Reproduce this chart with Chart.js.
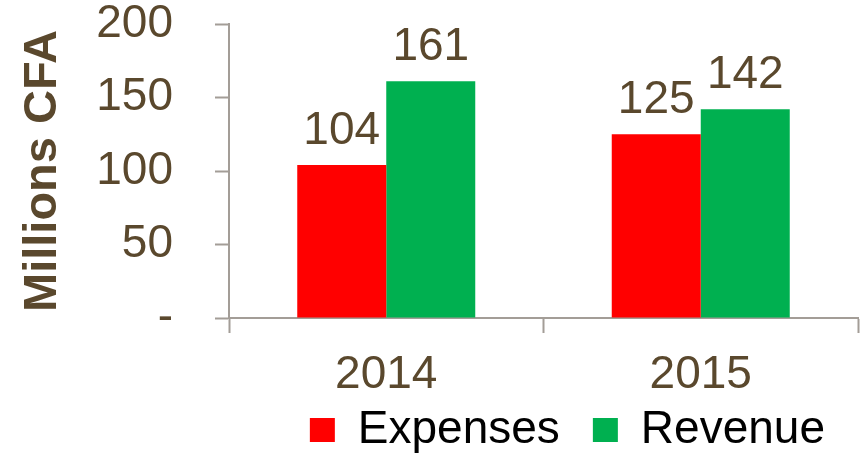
<!DOCTYPE html>
<html>
<head>
<meta charset="utf-8">
<script src="https://cdn.jsdelivr.net/npm/chart.js@4/dist/chart.umd.min.js"></script>
<style>
    html, body { margin: 0; padding: 0; background: #ffffff; }
    #wrap { width: 862px; height: 463px; }
</style>
</head>
<body>
<div id="wrap"><canvas id="chart"></canvas></div>
<script>
// Chart data
const years = ['2014', '2015'];
const expenses = [104, 125];
const revenue = [161, 142];
const yTicks = [0, 50, 100, 150, 200];

const textColor = '#5a482d';
const axisColor = '#a39d97';
const fontFamily = '"Liberation Sans", Arial, sans-serif';

// Value labels above each bar
const barValues = {
    id: 'barValues',
    afterDatasetsDraw(chart) {
        const ctx = chart.ctx;
        ctx.save();
        ctx.font = '46px ' + fontFamily;
        ctx.fillStyle = textColor;
        ctx.textAlign = 'center';
        ctx.textBaseline = 'alphabetic';
        chart.data.datasets.forEach((ds, i) => {
            chart.getDatasetMeta(i).data.forEach((bar, j) => {
                ctx.fillText(String(ds.data[j]), bar.x, bar.y - 21);
            });
        });
        ctx.restore();
    }
};

new Chart(document.getElementById('chart'), {
    type: 'bar',
    data: {
        labels: years,
        datasets: [{
            label: 'Expenses',
            data: expenses,
            backgroundColor: '#ff0000',
            categoryPercentage: 0.566,
            barPercentage: 1.0
        }, {
            label: 'Revenue',
            data: revenue,
            backgroundColor: '#00b050',
            categoryPercentage: 0.566,
            barPercentage: 1.0
        }]
    },
    options: {
        responsive: true,
        maintainAspectRatio: false,
        animation: false,
        layout: {
            padding: { top: 0, right: 4, bottom: 0, left: 0 }
        },
        plugins: {
            legend: {
                position: 'bottom',
                align: 'end',
                labels: {
                    color: '#000000',
                    font: { family: fontFamily, size: 46 },
                    boxWidth: 25,
                    boxHeight: 24,
                    padding: 33
                }
            },
            tooltip: { enabled: false }
        },
        scales: {
            x: {
                grid: {
                    offset: true,
                    drawOnChartArea: false,
                    tickLength: 15,
                    tickWidth: 2,
                    tickColor: axisColor
                },
                border: { color: axisColor, width: 2 },
                ticks: {
                    color: textColor,
                    font: { family: fontFamily, size: 46, lineHeight: 1.04 },
                    // mirrored labels are not clipped to the short axis box,
                    // the negative padding puts them back below the axis
                    mirror: true,
                    padding: -81
                },
                afterFit(scale) {
                    scale.height = 56;
                }
            },
            y: {
                min: 0,
                max: 200,
                afterBuildTicks(scale) {
                    scale.ticks = yTicks.map(v => ({ value: v }));
                },
                grid: {
                    drawOnChartArea: false,
                    tickLength: 14,
                    tickWidth: 2,
                    tickColor: axisColor
                },
                border: { color: axisColor, width: 2 },
                ticks: {
                    color: textColor,
                    font: { family: fontFamily, size: 46, lineHeight: 1.04 },
                    padding: 42,
                    callback: (v) => v === 0 ? '-' : v
                },
                title: {
                    display: true,
                    text: 'Millions CFA',
                    color: textColor,
                    font: { family: fontFamily, size: 47, weight: 'bold' },
                    padding: { top: 15, bottom: 0 }
                },
                afterFit(scale) {
                    scale.width = 229;
                    scale.paddingTop = 24;
                    scale.paddingBottom = 24;
                }
            }
        }
    },
    plugins: [barValues]
});
</script>
</body>
</html>
